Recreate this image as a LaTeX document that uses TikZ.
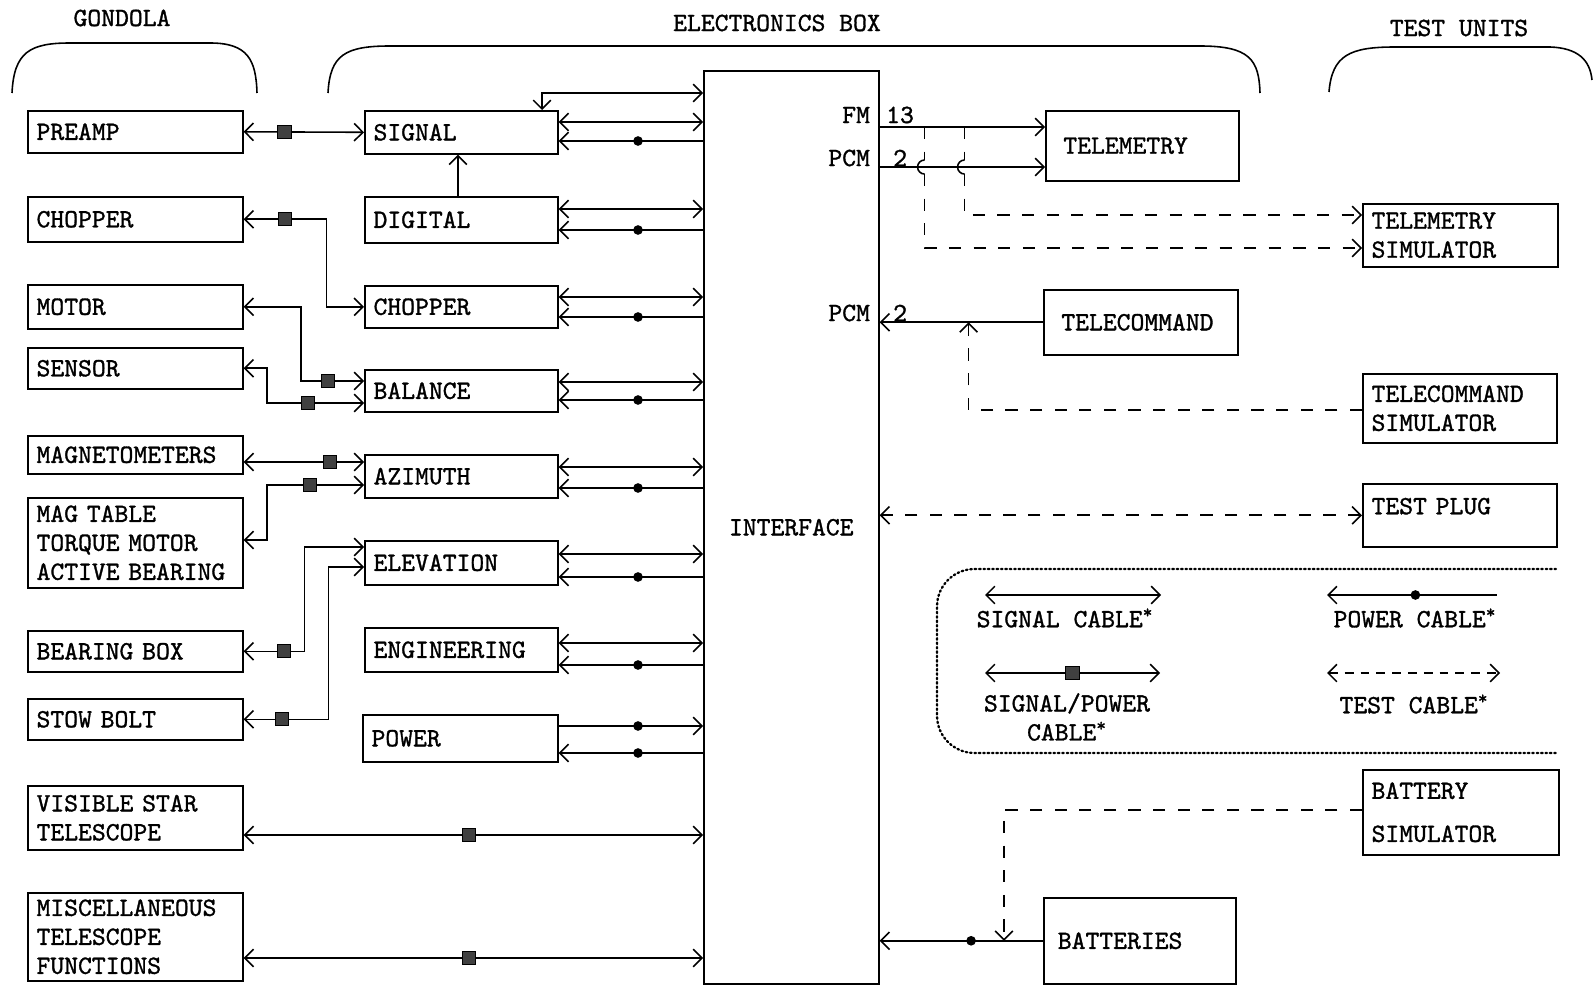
\documentclass[tikz,border=0pt]{standalone}
\usepackage{fontspec}
\newfontfamily\typew{lmmono10-regular.otf}[FakeBold=1.2]
\usetikzlibrary{positioning,arrows.meta,calc}
\newcommand\boxfont{\typew\fontsize{15}{16.5}\selectfont}

\begin{document}
\begin{tikzpicture}[
  x=0.02cm, y=-0.02cm,
  line width=0.9pt,
  >={Straight Barb[length=5pt,width=10pt]},
  every node/.style={font=\boxfont},
  box/.style 2 args={draw, rectangle, anchor=north west, inner xsep=5pt, inner ysep=0pt,
    minimum width=#1*0.02cm, minimum height=#2*0.02cm, text width=#1*0.02cm-10pt, align=left},
  sq/.style={draw, fill=black!75, minimum size=7.5pt, inner sep=0pt, line width=0.6pt},
  pwr/.style={circle, fill=black, minimum size=5.5pt, inner sep=0pt},
  tst/.style={dash pattern=on 7pt off 7pt},
  legbox/.style={line width=1.3pt, dash pattern=on 0.9pt off 1.6pt, line cap=round}
]
\useasboundingbox (0,0) rectangle (1593,986);

% headings and braces
\node (hgon) at (122,18) {GONDOLA};
\node (helec) at (777,23) {ELECTRONICS BOX};
\node (htest) at (1459,28) {TEST UNITS};
\draw (12,93) .. controls (14,52) and (30,43) .. (70,43) -- (210,43) .. controls (248,43) and (256,60) .. (257,93);
\draw (328,93) .. controls (330,55) and (345,46) .. (390,46) -- (1200,46) .. controls (1250,46) and (1259,60) .. (1260,93);
\draw (1329,92) .. controls (1332,55) and (1350,47) .. (1395,47) -- (1550,47) .. controls (1578,48) and (1590,60) .. (1592,80);

% gondola units
\node[box={215}{42}] (preamp) at (27,110) {PREAMP};
\node[box={215}{45}] (gcho) at (27,196) {CHOPPER};
\node[box={215}{44}] (motor) at (27,284) {MOTOR};
\node[box={215}{41}] (sensor) at (27,347) {SENSOR};
\node[box={215}{38}] (magn) at (27,435) {MAGNETOMETERS};
\node[box={215}{90}] (magt) at (27,497) {MAG TABLE\\TORQUE MOTOR\\ACTIVE BEARING};
\node[box={215}{41}] (bbox) at (27,630) {BEARING BOX};
\node[box={215}{41}] (stow) at (27,698) {STOW BOLT};
\node[box={215}{64}] (vst) at (27,785) {VISIBLE STAR\\TELESCOPE};
\node[box={215}{88}] (misc) at (27,892) {MISCELLANEOUS\\TELESCOPE\\FUNCTIONS};

% electronics box
\node[box={193}{43}] (sig) at (364,110) {SIGNAL};
\node[box={193}{46}] (dig) at (364,196) {DIGITAL};
\node[box={193}{42}] (mcho) at (364,285) {CHOPPER};
\node[box={193}{42}] (bal) at (364,369) {BALANCE};
\node[box={193}{43}] (azi) at (364,454) {AZIMUTH};
\node[box={193}{44}] (ele) at (364,540) {ELEVATION};
\node[box={193}{44}] (eng) at (364,627) {ENGINEERING};
\node[box={195}{47}] (pwrm) at (362,714) {POWER};
\node[box={175}{913}, align=center] (iface) at (703,70) {INTERFACE};

% test units and links
\node[box={193}{70}] (tm) at (1045,110) {\hspace*{5pt}TELEMETRY};
\node[box={195}{63}] (tsim) at (1362,203) {TELEMETRY\\SIMULATOR};
\node[box={194}{65}] (tc) at (1043,289) {\hspace*{5pt}TELECOMMAND};
\node[box={194}{69}] (tcsim) at (1362,373) {TELECOMMAND\\SIMULATOR};
\node[box={194}{63}] (tp) at (1362,483) {TEST PLUG\\[-6pt]\mbox{}};
\node[box={196}{85}] (bsim) at (1362,769) {BATTERY\\[8pt]SIMULATOR};
\node[box={192}{86}] (bat) at (1043,897) {\hspace*{3pt}BATTERIES};

% gondola to electronics
\draw[<->] (preamp.east) -- node[sq, pos=0.34] {} (sig.west);
\draw[<->] (gcho.east) -- node[sq] {} ++(83,0) |- (mcho.west);
\draw[<->] (motor.east) -| ($(bal.north west)+(-63,12)$) -- node[sq, pos=0.43] {} ($(bal.north west)+(0,12)$);
\draw[<->] (sensor.east) -| ($(bal.north west)+(-97,34)$) -- node[sq, pos=0.42] {} ($(bal.north west)+(0,34)$);
\draw[<->] ($(magn.north east)+(0,27)$) coordinate (m) -- node[sq, pos=0.72] {} (m -| azi.west);
\draw[<->] ($(magt.north east)+(0,43)$) -| ($(azi.north west)+(-97,31)$) -- node[sq, pos=0.44] {} ($(azi.north west)+(0,31)$);
\draw[<->] (bbox.east) -- node[sq, pos=0.66] {} ++(61,0) |- ($(ele.north west)+(0,7)$);
\draw[<->] (stow.east) -- node[sq, pos=0.45] {} ++(85,0) |- ($(ele.north west)+(0,27)$);
\draw[<->] ($(vst.north east)+(0,50)$) coordinate (v) -- node[sq, pos=0.49] {} (v -| iface.west);
\draw[<->] ($(misc.north east)+(0,66)$) coordinate (v) -- node[sq, pos=0.49] {} (v -| iface.west);

% electronics to interface
\draw[<->] ($(sig.north west)+(178,0)$) |- ($(iface.north west)+(0,23)$);
\draw[->] ($(dig.north west)+(94,0)$) -- ($(sig.south west)+(94,0)$);
\foreach \m/\a/\b in {sig/12/31, dig/13/34, mcho/12/32, bal/13/31, azi/13/34, ele/14/37, eng/16/38}{
  \draw[<->] ($(\m.north east)+(0,\a)$) coordinate (s) -- (s -| iface.west);
  \draw[<-] ($(\m.north east)+(0,\b)$) coordinate (p) -- (p -| iface.west) node[pwr, pos=0.55] {};
}
\draw[->] ($(pwrm.north east)+(0,12)$) coordinate (p) -- (p -| iface.west) node[pwr, pos=0.55] {};
\draw[<-] ($(pwrm.north east)+(0,39)$) coordinate (p) -- (p -| iface.west) node[pwr, pos=0.55] {};

% interface to test units
\node[anchor=east] (fmlbl) at ($(iface.north east)+(-3,45)$) {FM};
\node[anchor=west] (fmnum) at ($(iface.north east)+(0,45)$) {13};
\node[anchor=east] (pcmlbl) at ($(iface.north east)+(-3,88)$) {PCM};
\node[anchor=west] (pcmnum) at ($(iface.north east)+(7,88)$) {2};
\node[anchor=east] (tclbl) at ($(iface.north east)+(-3,243)$) {PCM};
\node[anchor=west] (tcnum) at ($(iface.north east)+(7,243)$) {2};
\draw[->] ($(iface.north east)+(0,57)$) coordinate (f) -- (f -| tm.west);
\draw[->] ($(iface.north east)+(0,97)$) coordinate (f) -- (f -| tm.west);
\draw[tst, ->] ($(iface.north east)+(45,57)$) -- ++(0,33) coordinate (h1) ++(0,14) |- ($(tsim.north west)+(0,45)$);
\draw[tst, ->] ($(iface.north east)+(85,57)$) -- ++(0,33) coordinate (h2) ++(0,14) |- ($(tsim.north west)+(0,12)$);
\draw (h1) arc[start angle=90, end angle=270, radius=4pt];
\draw (h2) arc[start angle=90, end angle=270, radius=4pt];
\draw[->] (tc.west) -- (tc.west -| iface.east);
\draw[tst, ->] ($(tcsim.north west)+(0,37)$) -| ($(iface.east |- tc.west)+(89,0)$);
\draw[tst, <->] (tp.west) -- (tp.west -| iface.east);
\draw[->] (bat.west) -- (bat.west -| iface.east) node[pwr, pos=0.44] {};
\draw[tst, ->] ($(bsim.north west)+(0,41)$) -| ($(bat.west)+(-39,0)$);

% key
\draw[legbox, rounded corners=0.75cm] (1556,569) -- (937,569) -- (937,753) -- (1556,753);
\coordinate (lsa) at (985,595); \coordinate (lsb) at (1161,595);
\draw[<->] (lsa) -- (lsb);
\node (lsig) at (1065,618) {SIGNAL CABLE\textsuperscript{*}};
\coordinate (lpa) at (1327,595); \coordinate (lpb) at (1497,595);
\draw[<-] (lpa) -- (lpb) node[pwr, pos=0.52] {};
\node (lpwr) at (1415,618) {POWER CABLE\textsuperscript{*}};
\coordinate (lca) at (985,673); \coordinate (lcb) at (1160,673);
\draw[<->] (lca) -- (lcb) node[sq, pos=0.5] {};
\node[align=center] (lcab) at (1067,717) {SIGNAL/POWER\\CABLE\textsuperscript{*}};
\coordinate (lta) at (1327,673); \coordinate (ltb) at (1500,673);
\draw[dash pattern=on 5pt off 4pt, <->] (lta) -- (ltb);
\node (ltst) at (1414,704) {TEST CABLE\textsuperscript{*}};
\end{tikzpicture}
\end{document}
